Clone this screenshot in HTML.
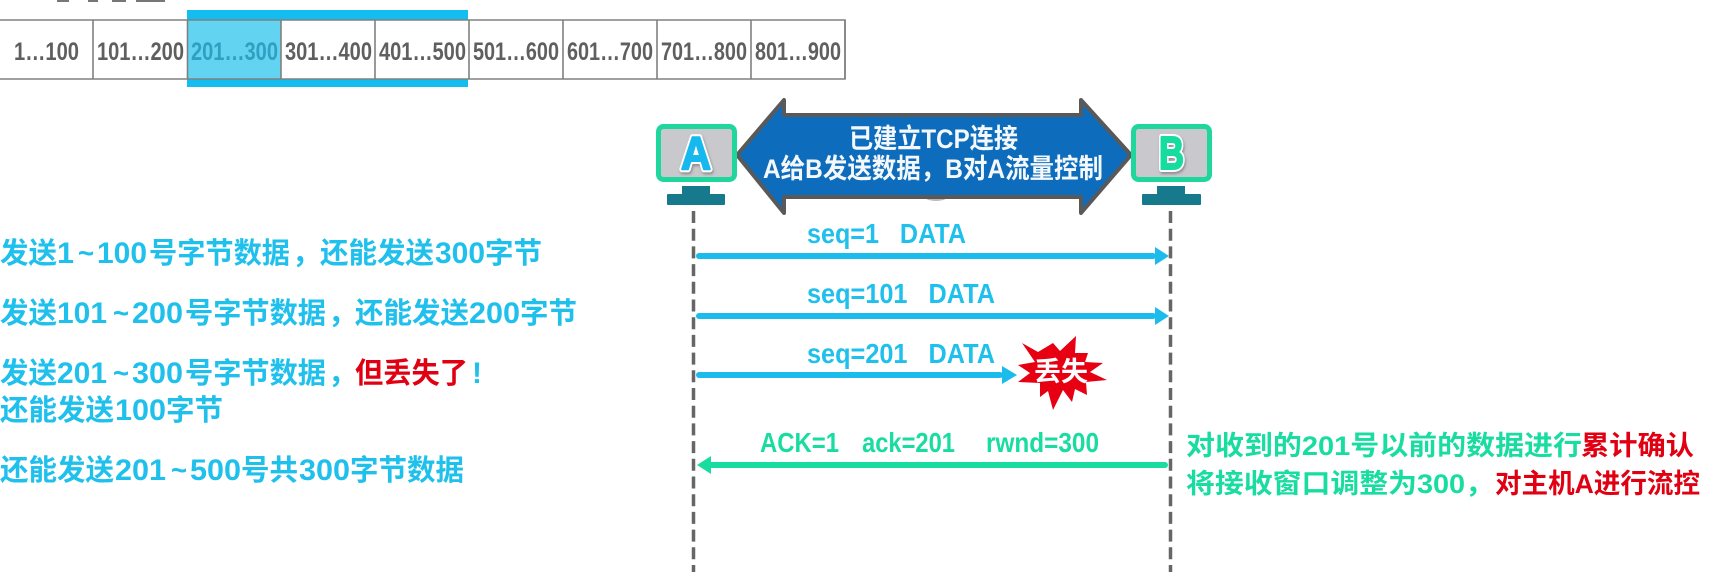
<!DOCTYPE html>
<html lang="zh"><head><meta charset="utf-8"><title>TCP流量控制</title>
<style>
html,body{margin:0;padding:0;background:#fff;width:1731px;height:572px;overflow:hidden}
svg{display:block}
.cell{font:bold 25px "Liberation Sans",sans-serif;fill:#5f5f5f}
.lab{font:bold 28px "Liberation Sans",sans-serif}
.cjk{font-family:"Liberation Sans","Noto Sans CJK SC",sans-serif;font-weight:700;font-size:29px}
.n{font-family:"Liberation Sans",sans-serif;font-weight:700;font-size:30px}
.c{fill:#1fc0ec}.g{fill:#19dca0}.r{fill:#e00012}
</style></head><body>
<svg width="1731" height="572" viewBox="0 0 1731 572" xmlns="http://www.w3.org/2000/svg">
<defs><filter id="sh" x="-30%" y="-30%" width="160%" height="160%"><feDropShadow dx="1" dy="2" stdDeviation="1.200" flood-color="#666" flood-opacity=".6"/></filter></defs>
<rect x="57" y="0" width="12" height="2" fill="#777"/><rect x="88" y="0" width="10" height="2" fill="#777"/><rect x="112" y="0" width="14" height="2" fill="#777"/><rect x="136" y="0" width="29" height="2" fill="#777"/>
<!-- window -->
<rect x="187" y="10" width="281" height="10" fill="#14bdf0"/>
<rect x="187" y="79" width="281" height="8" fill="#14bdf0"/>
<rect x="188" y="20" width="93" height="59" fill="#62d4f2"/>
<g stroke="#808080" stroke-width="1.6" fill="none">
<path d="M0 20H845V79H0"/>
<path d="M93 20V79M187.500 20V79M281 20V79M375 20V79M469 20V79M563 20V79M657 20V79M751 20V79M845 20V79"/>
</g>
<g class="cell">
<text x="14" y="60" textLength="65" lengthAdjust="spacingAndGlyphs">1…100</text>
<text x="97" y="60" textLength="87" lengthAdjust="spacingAndGlyphs">101…200</text>
<text x="191" y="60" textLength="87" lengthAdjust="spacingAndGlyphs" style="fill:#2f9fc2">201…300</text>
<text x="285" y="60" textLength="87" lengthAdjust="spacingAndGlyphs">301…400</text>
<text x="379" y="60" textLength="87" lengthAdjust="spacingAndGlyphs">401…500</text>
<text x="473" y="60" textLength="86" lengthAdjust="spacingAndGlyphs">501…600</text>
<text x="567" y="60" textLength="86" lengthAdjust="spacingAndGlyphs">601…700</text>
<text x="661" y="60" textLength="86" lengthAdjust="spacingAndGlyphs">701…800</text>
<text x="755" y="60" textLength="86" lengthAdjust="spacingAndGlyphs">801…900</text>
</g>
<!-- dashed lifelines -->
<g stroke="#666" stroke-width="3.500" stroke-dasharray="12 5.700" fill="none">
<path d="M693.500 211V572"/><path d="M1170.500 211V572"/>
</g>
<!-- double arrow -->
<ellipse cx="936" cy="195" rx="13" ry="6" fill="#bbb"/>
<polygon points="737,155 784,100 784,115 1081,115 1081,100 1131,155 1081,213 1081,197 784,197 784,213" fill="#0e6cbc" stroke="#595959" stroke-width="4" stroke-linejoin="round"/>
<g class="cjk" fill="#f4f8fb" style="font-size:27px">
<text x="849" y="148" textLength="169" lengthAdjust="spacingAndGlyphs">已建立TCP连接</text>
<text x="763" y="178" textLength="340" lengthAdjust="spacingAndGlyphs">A给B发送数据，B对A流量控制</text>
</g>
<!-- monitors -->
<rect x="658.500" y="126.500" width="76" height="53" rx="5" fill="#c9c9cd" stroke="#1fd69c" stroke-width="5"/>
<rect x="682" y="186" width="28" height="9" fill="#16798c"/><rect x="667" y="194" width="58" height="11" rx="1" fill="#16798c"/>
<rect x="1133.500" y="126.500" width="76" height="53" rx="5" fill="#c9c9cd" stroke="#1fd69c" stroke-width="5"/>
<rect x="1157" y="186" width="28" height="9" fill="#16798c"/><rect x="1142" y="194" width="59" height="11" rx="1" fill="#16798c"/>
<g font-family="Liberation Sans,sans-serif" font-weight="700" font-size="46" stroke-linejoin="round" filter="url(#sh)">
<text x="681" y="169" fill="#16b8ee" stroke="#fff" stroke-width="6" paint-order="stroke" textLength="30" lengthAdjust="spacingAndGlyphs">A</text>
<text x="681" y="169" fill="#16b8ee" stroke="#16b8ee" stroke-width="2" textLength="30" lengthAdjust="spacingAndGlyphs">A</text>
<text x="1159" y="169" fill="#19dca0" stroke="#fff" stroke-width="6" paint-order="stroke" textLength="25" lengthAdjust="spacingAndGlyphs">B</text>
<text x="1159" y="169" fill="#19dca0" stroke="#19dca0" stroke-width="2" textLength="25" lengthAdjust="spacingAndGlyphs">B</text>
</g>
<!-- arrows -->
<g fill="#1bbcec">
<rect x="696" y="253" width="460" height="6" rx="3"/><polygon points="1155,247 1169,256 1155,265"/>
<rect x="696" y="313" width="460" height="6" rx="3"/><polygon points="1155,307 1169,316 1155,325"/>
<rect x="696" y="372" width="307" height="6" rx="3"/><polygon points="1002,366 1017,375 1002,384"/>
</g>
<g class="lab c">
<text x="807" y="243" textLength="159" lengthAdjust="spacingAndGlyphs" xml:space="preserve">seq=1   DATA</text>
<text x="807" y="303" textLength="188" lengthAdjust="spacingAndGlyphs" xml:space="preserve">seq=101   DATA</text>
<text x="807" y="363" textLength="188" lengthAdjust="spacingAndGlyphs" xml:space="preserve">seq=201   DATA</text>
</g>
<rect x="708" y="462" width="460" height="6" rx="3" fill="#19dca0"/><polygon points="697,465 711,456 711,474" fill="#19dca0"/>
<g class="lab g">
<text x="760" y="452" textLength="79" lengthAdjust="spacingAndGlyphs">ACK=1</text>
<text x="862" y="452" textLength="93" lengthAdjust="spacingAndGlyphs">ack=201</text>
<text x="986" y="452" textLength="113" lengthAdjust="spacingAndGlyphs">rwnd=300</text>
</g>
<!-- star -->
<polygon fill="#e60012" points="1022,343 1038,352 1053,343 1060,351 1076,336 1075,353 1088,353 1085,362 1103,363 1090,372 1107,380 1086,382 1087,395 1075,389 1072,402 1063,390 1053,410 1048,391 1040,397 1040,383 1018,382 1030,373 1018,365 1035,362"/>
<text x="1034" y="381" class="cjk" fill="#fff" style="font-size:27px" textLength="54" lengthAdjust="spacingAndGlyphs">丢失</text>
<!-- left text -->
<g class="c">
<g class="cjk"><text x="0" y="263" textLength="57" lengthAdjust="spacingAndGlyphs">发送</text><text x="149" y="263" textLength="141" lengthAdjust="spacingAndGlyphs">号字节数据</text><text x="292" y="263">，</text><text x="320" y="263" textLength="114" lengthAdjust="spacingAndGlyphs">还能发送</text><text x="485" y="263" textLength="57" lengthAdjust="spacingAndGlyphs">字节</text></g>
<g class="n"><text x="57" y="263" textLength="17" lengthAdjust="spacingAndGlyphs">1</text><text x="78" y="263" textLength="16" lengthAdjust="spacingAndGlyphs">~</text><text x="97" y="263" textLength="50" lengthAdjust="spacingAndGlyphs">100</text><text x="435" y="263" textLength="50" lengthAdjust="spacingAndGlyphs">300</text></g>

<g class="cjk"><text x="0" y="323" textLength="57" lengthAdjust="spacingAndGlyphs">发送</text><text x="185" y="323" textLength="141" lengthAdjust="spacingAndGlyphs">号字节数据</text><text x="328" y="323">，</text><text x="355" y="323" textLength="114" lengthAdjust="spacingAndGlyphs">还能发送</text><text x="520" y="323" textLength="57" lengthAdjust="spacingAndGlyphs">字节</text></g>
<g class="n"><text x="57" y="323" textLength="50" lengthAdjust="spacingAndGlyphs">101</text><text x="113" y="323" textLength="16" lengthAdjust="spacingAndGlyphs">~</text><text x="132" y="323" textLength="51" lengthAdjust="spacingAndGlyphs">200</text><text x="469" y="323" textLength="51" lengthAdjust="spacingAndGlyphs">200</text></g>

<g class="cjk"><text x="0" y="383" textLength="57" lengthAdjust="spacingAndGlyphs">发送</text><text x="185" y="383" textLength="141" lengthAdjust="spacingAndGlyphs">号字节数据</text><text x="328" y="383">，</text></g>
<g class="n"><text x="57" y="383" textLength="50" lengthAdjust="spacingAndGlyphs">201</text><text x="113" y="383" textLength="16" lengthAdjust="spacingAndGlyphs">~</text><text x="132" y="383" textLength="51" lengthAdjust="spacingAndGlyphs">300</text><text x="472" y="383">!</text></g>

<g class="cjk"><text x="0" y="420" textLength="114" lengthAdjust="spacingAndGlyphs">还能发送</text><text x="166" y="420" textLength="57" lengthAdjust="spacingAndGlyphs">字节</text></g>
<g class="n"><text x="115" y="420" textLength="51" lengthAdjust="spacingAndGlyphs">100</text></g>

<g class="cjk"><text x="0" y="480" textLength="114" lengthAdjust="spacingAndGlyphs">还能发送</text><text x="241" y="480" textLength="57" lengthAdjust="spacingAndGlyphs">号共</text><text x="350" y="480" textLength="114" lengthAdjust="spacingAndGlyphs">字节数据</text></g>
<g class="n"><text x="115" y="480" textLength="51" lengthAdjust="spacingAndGlyphs">201</text><text x="171" y="480" textLength="16" lengthAdjust="spacingAndGlyphs">~</text><text x="190" y="480" textLength="51" lengthAdjust="spacingAndGlyphs">500</text><text x="299" y="480" textLength="51" lengthAdjust="spacingAndGlyphs">300</text></g>
</g>
<text x="355" y="383" class="cjk r" textLength="113" lengthAdjust="spacingAndGlyphs">但丢失了</text>
<!-- right text -->
<g class="cjk" style="font-size:27px">
<text x="1186" y="455" class="g" textLength="396" lengthAdjust="spacingAndGlyphs">对收到的201号以前的数据进行</text>
<text x="1581" y="455" class="r" textLength="113" lengthAdjust="spacingAndGlyphs">累计确认</text>
<text x="1186" y="493" class="g" textLength="308" lengthAdjust="spacingAndGlyphs">将接收窗口调整为300，</text>
<text x="1495" y="493" class="r" textLength="205" lengthAdjust="spacingAndGlyphs">对主机A进行流控</text>
</g>
</svg>
</body></html>
